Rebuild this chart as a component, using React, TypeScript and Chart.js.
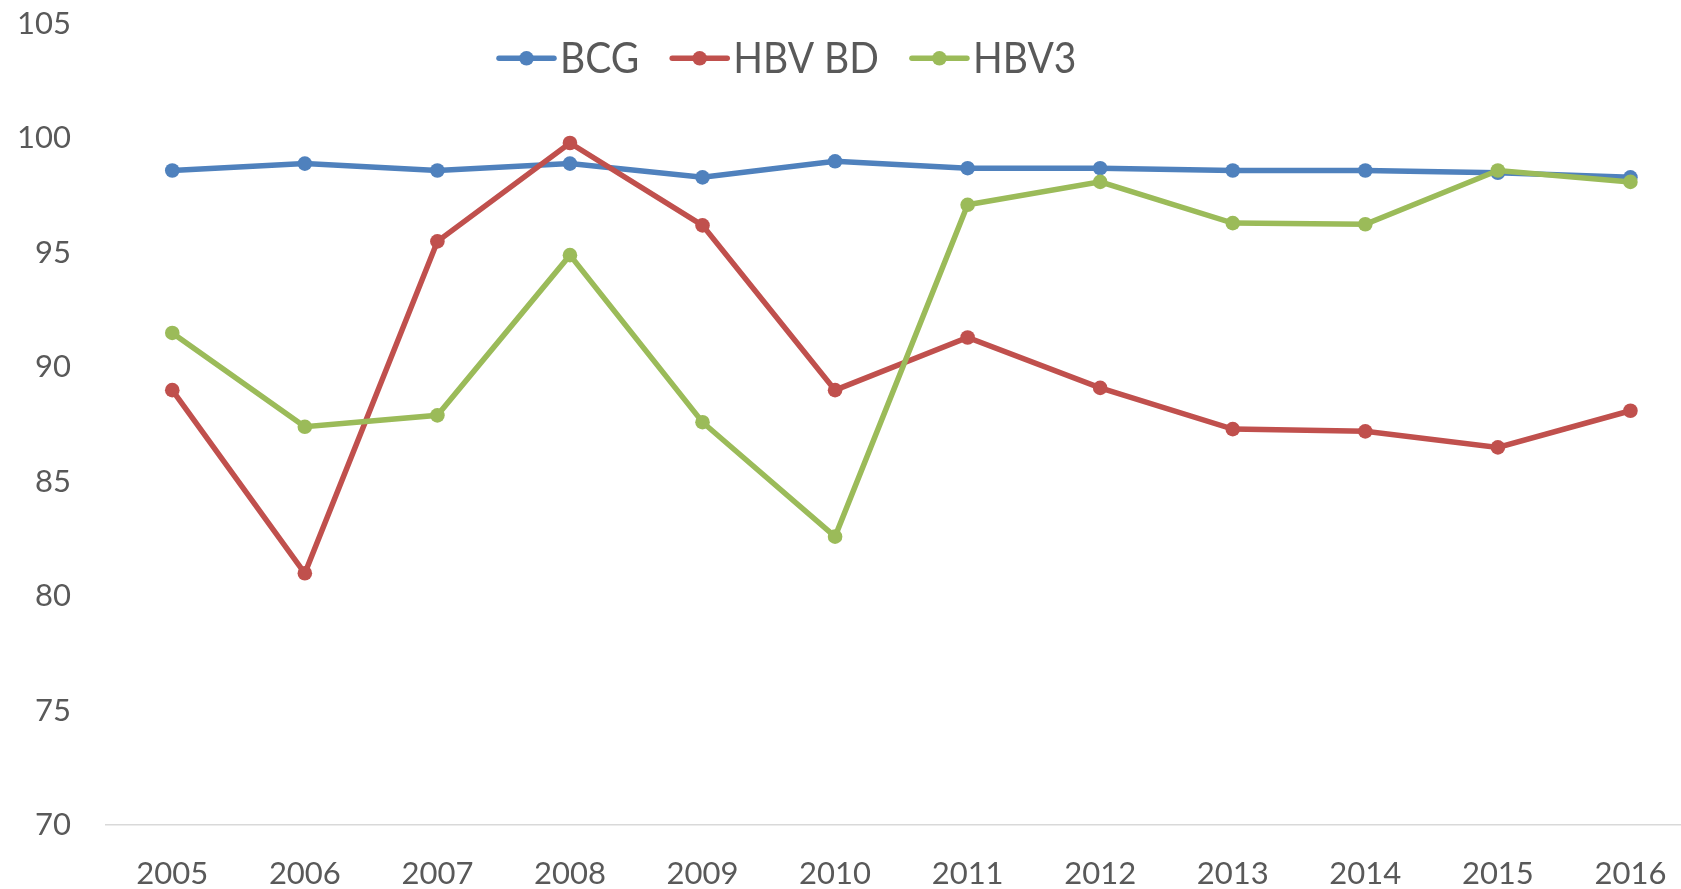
import React, { useEffect, useRef } from "react";
import { Chart, registerables } from "chart.js";

Chart.register(...registerables);

const years = ["2005", "2006", "2007", "2008", "2009", "2010", "2011", "2012", "2013", "2014", "2015", "2016"];
const bcg = [98.6, 98.9, 98.6, 98.9, 98.3, 99.0, 98.7, 98.7, 98.6, 98.6, 98.5, 98.3];
const hbvBd = [89.0, 81.0, 95.5, 99.8, 96.2, 89.0, 91.3, 89.1, 87.3, 87.2, 86.5, 88.1];
const hbv3 = [91.5, 87.4, 87.9, 94.9, 87.6, 82.6, 97.1, 98.1, 96.3, 96.25, 98.6, 98.1];
const yMin = 70;
const yMax = 105;
const yStep = 5;

const TEXT = "#595959";

const legendPlugin = {
  id: "customLegend",
  afterDraw(chart: any) {
    const ctx = chart.ctx as CanvasRenderingContext2D;
    const lineY = 58.3;
    const baseY = 72.7;
    let x = 499;
    ctx.save();
    ctx.font = "39px Lato";
    chart.data.datasets.forEach((ds: any) => {
      ctx.strokeStyle = ds.borderColor;
      ctx.lineWidth = 5.5;
      ctx.lineCap = "round";
      ctx.beginPath();
      ctx.moveTo(x, lineY);
      ctx.lineTo(x + 55, lineY);
      ctx.stroke();
      ctx.fillStyle = ds.borderColor;
      ctx.beginPath();
      ctx.arc(x + 27.5, lineY, 7.3, 0, Math.PI * 2);
      ctx.fill();
      x += 61;
      ctx.save();
      ctx.translate(x, baseY);
      ctx.scale(1, 1.07);
      ctx.fillStyle = TEXT;
      ctx.textBaseline = "alphabetic";
      ctx.textAlign = "left";
      ctx.fillText(ds.label, 0, 0);
      ctx.restore();
      x += ctx.measureText(ds.label).width + 33;
    });
    ctx.restore();
  },
};

export default function App() {
  const ref = useRef<HTMLCanvasElement | null>(null);
  useEffect(() => {
    if (!ref.current) return;
    const mk = (label: string, data: number[], color: string, order: number) => ({
      label,
      data,
      order,
      borderColor: color,
      backgroundColor: color,
      borderWidth: 5.5,
      pointRadius: 7.3,
      pointBorderWidth: 0,
      pointBackgroundColor: color,
      tension: 0,
      clip: false as any,
    });
    const chart = new Chart(ref.current, {
      type: "line",
      data: {
        labels: years,
        datasets: [
          mk("BCG", bcg, "#4F81BD", 3),
          mk("HBV BD", hbvBd, "#C0504D", 2),
          mk("HBV3", hbv3, "#9BBB59", 1),
        ],
      },
      options: {
        animation: false,
        responsive: false,
        layout: { padding: { top: 24, right: 0, left: 0, bottom: 0 } },
        plugins: { legend: { display: false }, tooltip: { enabled: false } },
        scales: {
          x: {
            offset: true,
            grid: { display: false, drawTicks: true, tickLength: 30 },
            border: { display: true, color: "#D9D9D9", width: 1.5 },
            ticks: { color: TEXT, font: { family: "Lato", size: 31 }, padding: 0, maxRotation: 0, autoSkip: false },
            afterFit: (s: any) => {
              s.height = 64;
            },
          },
          y: {
            min: yMin,
            max: yMax,
            grid: { display: false, drawTicks: true, tickLength: 35 },
            border: { display: false },
            ticks: { stepSize: yStep, color: TEXT, font: { family: "Lato", size: 31 }, padding: 0 },
            afterFit: (s: any) => {
              s.width = 106;
            },
          },
        },
      },
      plugins: [legendPlugin],
    });
    return () => chart.destroy();
  }, []);
  return (
    <div style={{ position: "fixed", left: 0, top: 0, width: 1681, height: 889, overflow: "hidden", background: "#fff" }}>
      <canvas ref={ref} width={1704} height={889} style={{ display: "block" }} />
    </div>
  );
}
